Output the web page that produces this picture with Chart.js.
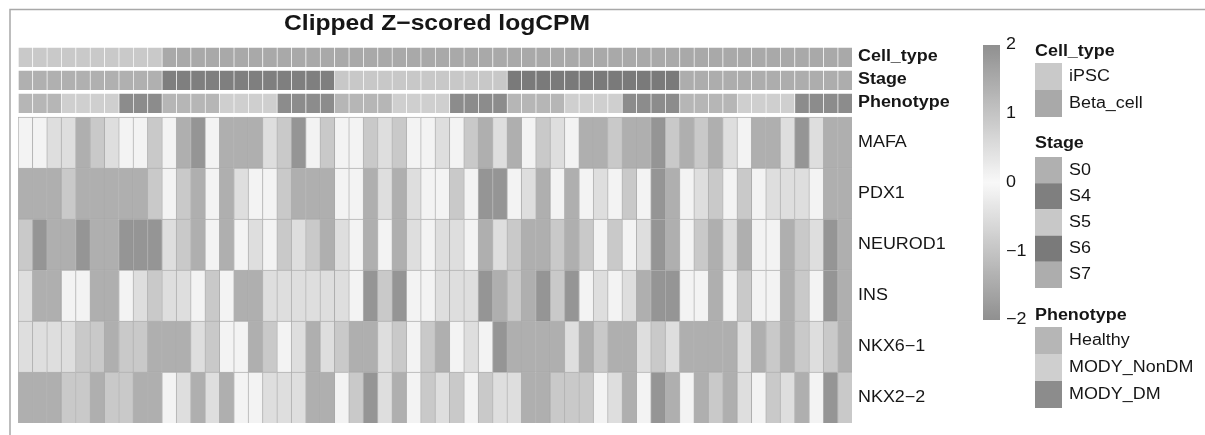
<!DOCTYPE html>
<html>
<head>
<meta charset="utf-8">
<script src="https://cdn.jsdelivr.net/npm/chart.js@4.4.1/dist/chart.umd.min.js"></script>
<style>
html,body{margin:0;padding:0;background:#ffffff;}
#wrap{width:1205px;height:435px;position:relative;}
</style>
</head>
<body>
<div id="wrap"><canvas id="c"></canvas></div>
<script>
// ---------------- DATA ----------------
const chartTitle = 'Clipped Z\u2212scored logCPM';
const genes = ['MAFA', 'PDX1', 'NEUROD1', 'INS', 'NKX6\u22121', 'NKX2\u22122'];

const MAFA = [-0.1,-0.1,-0.5,-0.5,-1.4,-0.9,-0.5,-0.1,-0.1,-0.9, 0.1,1.4,1.9,0.1,1.4,1.4,1.4,0.5,0.9,1.9,
  0.1,0.9,0.1,0.1,0.9,0.5,0.9,0.1, 0.1,0.5,0.1,0.9,1.4,0.5,1.4,0.1,0.9,0.5,
  0.1,1.4,1.4,0.9,1.4,1.4,1.9,0.9,1.4,0.9, 1.4,0.5,0.1,1.4,1.4,0.5,1.9,0.5,1.4,1.4];
const PDX1 = [-1.4,-1.4,-1.4,-0.9,-1.4,-1.4,-1.4,-1.4,-1.4,-0.9, 0.1,0.9,1.4,0.1,1.4,0.5,0.1,0.1,0.9,1.4,
  1.4,1.4,0.1,0.1,1.4,0.5,1.4,0.5, 0.1,0.1,0.9,0.1,1.9,1.9,0.1,0.5,1.4,0.1,
  1.4,0.1,0.5,0.1,0.9,0.1,1.9,1.4,0.1,0.5, 0.9,0.1,0.9,0.1,0.5,0.5,0.5,0.1,1.4,1.4];
const NEUROD1 = [-0.9,-1.9,-1.4,-1.4,-1.9,-1.4,-1.4,-1.9,-1.9,-1.9, 0.5,0.9,1.4,0.1,1.4,0.1,0.5,0.1,0.9,0.5,
  0.9,1.4,0.5,0.1,1.4,0.1,1.4,0.5, 0.1,0.5,0.5,0.1,1.4,0.5,0.9,1.4,1.4,0.9,
  1.4,0.9,0.1,0.9,0.1,0.5,1.9,1.4,0.1,0.9, 1.4,0.5,1.4,0.1,0.1,1.4,0.9,0.5,1.9,1.4];
const INS = [-0.5,-1.4,-1.4,-0.1,-0.1,-1.4,-1.4,-0.1,-0.5,-0.9, 0.5,0.5,0.1,0.9,0.1,1.4,1.4,0.5,0.5,0.5,
  0.5,0.5,0.5,0.1,1.9,0.9,1.9,0.1, 0.1,0.5,0.5,0.5,1.9,1.4,0.9,1.4,1.9,0.9,
  1.9,0.1,0.5,0.1,0.5,1.4,1.9,1.9,0.1,0.1, 1.4,0.1,0.9,0.1,0.1,1.4,0.9,0.1,1.9,1.4];
const NKX6_1 = [-0.5,-0.5,-0.5,-0.5,-0.9,-0.9,-1.4,-0.9,-0.9,-1.4, 1.4,1.4,0.5,0.9,0.1,0.1,1.4,0.9,0.1,0.5,
  1.4,0.5,0.9,1.4,1.4,0.5,0.9,0.1, 0.9,1.4,0.1,0.5,0.1,1.9,1.4,1.4,1.4,1.4,
  0.5,1.4,0.9,1.4,1.4,0.5,0.9,0.5,1.4,1.4, 1.4,1.4,0.5,1.4,0.9,1.4,0.9,0.5,0.9,1.4];
const NKX2_2 = [-1.4,-1.4,-1.4,-0.9,-0.9,-1.4,-0.9,-0.9,-1.4,-1.4, 0.1,0.5,1.4,0.5,1.4,0.1,0.1,0.5,0.5,0.5,
  1.4,1.4,0.1,0.9,1.9,0.5,1.4,0.1, 0.9,0.5,0.9,0.1,0.9,0.5,0.5,1.4,1.4,0.9,
  0.9,0.9,0.1,0.5,1.4,0.1,1.9,1.4,0.1,1.4, 0.9,1.4,0.5,0.1,0.9,0.5,1.4,0.1,1.9,0.9];

const cellType = ['iPSC','iPSC','iPSC','iPSC','iPSC','iPSC','iPSC','iPSC','iPSC','iPSC',
  'Beta_cell','Beta_cell','Beta_cell','Beta_cell','Beta_cell','Beta_cell','Beta_cell','Beta_cell','Beta_cell','Beta_cell','Beta_cell','Beta_cell',
  'Beta_cell','Beta_cell','Beta_cell','Beta_cell','Beta_cell','Beta_cell','Beta_cell','Beta_cell','Beta_cell','Beta_cell','Beta_cell','Beta_cell',
  'Beta_cell','Beta_cell','Beta_cell','Beta_cell','Beta_cell','Beta_cell','Beta_cell','Beta_cell','Beta_cell','Beta_cell','Beta_cell','Beta_cell',
  'Beta_cell','Beta_cell','Beta_cell','Beta_cell','Beta_cell','Beta_cell','Beta_cell','Beta_cell','Beta_cell','Beta_cell','Beta_cell','Beta_cell'];
const stage = ['S0','S0','S0','S0','S0','S0','S0','S0','S0','S0',
  'S4','S4','S4','S4','S4','S4','S4','S4','S4','S4','S4','S4',
  'S5','S5','S5','S5','S5','S5','S5','S5','S5','S5','S5','S5',
  'S6','S6','S6','S6','S6','S6','S6','S6','S6','S6','S6','S6',
  'S7','S7','S7','S7','S7','S7','S7','S7','S7','S7','S7','S7'];
const phenotype = ['Healthy','Healthy','Healthy','MODY_NonDM','MODY_NonDM','MODY_NonDM','MODY_NonDM','MODY_DM','MODY_DM','MODY_DM',
  'Healthy','Healthy','Healthy','Healthy','MODY_NonDM','MODY_NonDM','MODY_NonDM','MODY_NonDM','MODY_DM','MODY_DM','MODY_DM','MODY_DM',
  'Healthy','Healthy','Healthy','Healthy','MODY_NonDM','MODY_NonDM','MODY_NonDM','MODY_NonDM','MODY_DM','MODY_DM','MODY_DM','MODY_DM',
  'Healthy','Healthy','Healthy','Healthy','MODY_NonDM','MODY_NonDM','MODY_NonDM','MODY_NonDM','MODY_DM','MODY_DM','MODY_DM','MODY_DM',
  'Healthy','Healthy','Healthy','Healthy','MODY_NonDM','MODY_NonDM','MODY_NonDM','MODY_NonDM','MODY_DM','MODY_DM','MODY_DM','MODY_DM'];

const cellTypeLevels = ['iPSC', 'Beta_cell'];
const stageLevels = ['S0', 'S4', 'S5', 'S6', 'S7'];
const phenotypeLevels = ['Healthy', 'MODY_NonDM', 'MODY_DM'];
const colorbarTicks = [2, 1, 0, -1, -2];

// ---------------- STYLE ----------------
const cellTypeColors = { iPSC: '#c9c9c9', Beta_cell: '#a9a9a9' };
const stageColors = { S0: '#b0b0b0', S4: '#7f7f7f', S5: '#c8c8c8', S6: '#7a7a7a', S7: '#adadad' };
const phenotypeColors = { Healthy: '#b6b6b6', MODY_NonDM: '#cfcfcf', MODY_DM: '#8c8c8c' };
const TEXT = '#161616';
const FONT = '"Liberation Sans", Arial, Helvetica, sans-serif';
const SX = 1.12;           // horizontal stretch of the scanned text
const GENE_H = 51, ANN_H = 20;

function gray(v) {
  const a = Math.min(Math.abs(v), 2);
  const g = Math.round(248 - 52 * a);
  return 'rgb(' + g + ',' + g + ',' + g + ')';
}

const samples = cellType.map((_, i) => 'sample_' + (i + 1));
const geneValues = [MAFA, PDX1, NEUROD1, INS, NKX6_1, NKX2_2];

const datasets = [];
const rowMeta = [];
function cellDs(label, colors, h, border) {
  return {
    label, data: samples.map(() => h), backgroundColor: colors,
    borderColor: border, borderWidth: { left: 1, top: 1, right: 0, bottom: 0 },
    borderSkipped: false, barPercentage: 1, categoryPercentage: 1
  };
}
for (let r = genes.length - 1; r >= 0; r--) {
  datasets.push(cellDs(genes[r], geneValues[r].map(gray), GENE_H, 'rgba(115,115,115,0.55)'));
  rowMeta.push({ label: genes[r], bold: false, h: GENE_H });
}
function gap(h) {
  datasets.push({ label: '', data: samples.map(() => h), backgroundColor: 'rgba(0,0,0,0)', borderWidth: 0, barPercentage: 1, categoryPercentage: 1 });
  rowMeta.push({ label: '', h });
}
gap(4);
datasets.push(cellDs('Phenotype', phenotype.map(p => phenotypeColors[p]), ANN_H, 'rgba(255,255,255,0.12)'));
rowMeta.push({ label: 'Phenotype', bold: true, h: ANN_H });
gap(3);
datasets.push(cellDs('Stage', stage.map(s => stageColors[s]), ANN_H, 'rgba(255,255,255,0.12)'));
rowMeta.push({ label: 'Stage', bold: true, h: ANN_H });
gap(3);
datasets.push(cellDs('Cell_type', cellType.map(c => cellTypeColors[c]), ANN_H, 'rgba(255,255,255,0.12)'));
rowMeta.push({ label: 'Cell_type', bold: true, h: ANN_H });
const TOTAL = rowMeta.reduce((s, r) => s + r.h, 0);

function txt(ctx, s, x, y, font, align) {
  ctx.save();
  ctx.font = font;
  ctx.fillStyle = TEXT;
  ctx.textBaseline = 'middle';
  ctx.textAlign = align || 'left';
  ctx.translate(x, y);
  ctx.scale(SX, 1);
  ctx.fillText(s, 0, 0);
  ctx.restore();
}

const deco = {
  id: 'deco',
  afterDraw(chart) {
    const { ctx } = chart;
    const xs = chart.scales.x, ys = chart.scales.y;
    ctx.save();
    ctx.strokeStyle = '#a8a8a8';
    ctx.lineWidth = 1.5;
    ctx.beginPath();
    ctx.moveTo(10, 435); ctx.lineTo(10, 9.5); ctx.lineTo(1205, 9.5);
    ctx.stroke();
    ctx.restore();
    txt(ctx, chartTitle, (xs.left + xs.right) / 2 + 2, 24, 'bold 22px ' + FONT, 'center');
    let base = 0;
    rowMeta.forEach(r => {
      if (r.label) {
        const yc = ys.getPixelForValue(base + r.h / 2);
        txt(ctx, r.label, xs.right + 6, yc, (r.bold ? 'bold ' : '') + '16px ' + FONT, 'left');
      }
      base += r.h;
    });
    const cbX = 983, cbW = 17, cbTop = 45, cbBot = 320;
    const vy = v => cbTop + (2 - v) / 4 * (cbBot - cbTop);
    const grad = ctx.createLinearGradient(0, cbTop, 0, cbBot);
    for (let k = 0; k <= 40; k++) {
      const v = 2 - k / 10;
      grad.addColorStop(k / 40, gray(v));
    }
    ctx.fillStyle = grad;
    ctx.fillRect(cbX, cbTop, cbW, cbBot - cbTop);
    colorbarTicks.forEach(t => {
      txt(ctx, (t < 0 ? '\u2212' + Math.abs(t) : String(t)), cbX + cbW + 6, vy(t), '16px ' + FONT, 'left');
    });
    const lx = 1035, sw = 27;
    const groups = [
      { title: 'Cell_type', ty: 52, sy: 63, sh: 27, levels: cellTypeLevels, colors: cellTypeColors },
      { title: 'Stage', ty: 144, sy: 157, sh: 26.2, levels: stageLevels, colors: stageColors },
      { title: 'Phenotype', ty: 316, sy: 327, sh: 27, levels: phenotypeLevels, colors: phenotypeColors }
    ];
    groups.forEach(g => {
      txt(ctx, g.title, lx, g.ty, 'bold 16px ' + FONT, 'left');
      g.levels.forEach((lv, i) => {
        ctx.fillStyle = g.colors[lv];
        ctx.fillRect(lx, g.sy + i * g.sh, sw, g.sh);
        txt(ctx, lv, lx + sw + 7, g.sy + i * g.sh + g.sh / 2, '16px ' + FONT, 'left');
      });
    });
  }
};

new Chart(document.getElementById('c'), {
  type: 'bar',
  data: { labels: samples, datasets },
  options: {
    responsive: true,
    maintainAspectRatio: false,
    animation: false,
    events: [],
    layout: { padding: { left: 18, right: 353, top: 47, bottom: 12 } },
    plugins: { legend: { display: false }, title: { display: false }, tooltip: { enabled: false } },
    scales: {
      x: { stacked: true, display: false, offset: true },
      y: { stacked: true, display: false, min: 0, max: TOTAL }
    }
  },
  plugins: [deco]
});
</script>
</body>
</html>
